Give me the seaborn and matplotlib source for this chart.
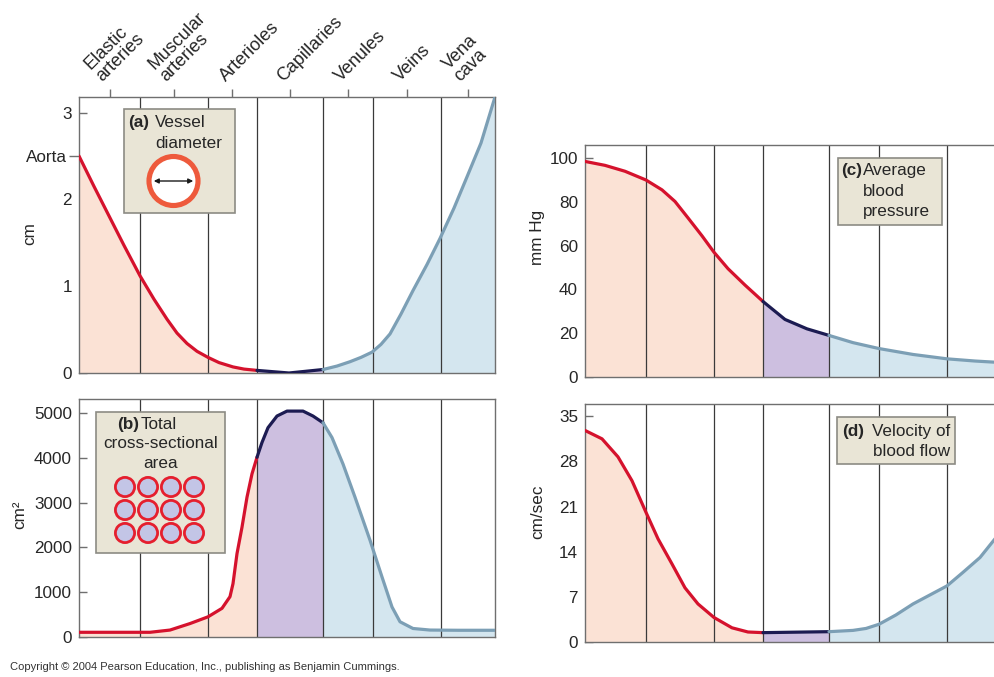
import numpy as np
import pandas as pd
import matplotlib
matplotlib.use("Agg")
import matplotlib.pyplot as plt
import seaborn as sns
from matplotlib.patches import Rectangle, Circle, FancyArrowPatch
from matplotlib.ticker import FixedLocator, FixedFormatter

# ---------------- data ----------------
vessels = ["Elastic\narteries", "Muscular\narteries", "Arterioles", "Capillaries",
           "Venules", "Veins", "Vena\ncava"]
bounds = [0, 61, 129, 178, 244, 294, 362, 416]   # position along the circulation

diam_x = [0, 15, 30, 45, 61, 75, 88, 98, 108, 118, 129, 140, 154, 165, 178, 210, 244,
          258, 271, 282, 293, 302, 311, 322, 334, 348, 361, 375, 388, 402, 416]
diam_y = [2.5, 2.15, 1.81, 1.47, 1.12, 0.85, 0.62, 0.46, 0.34, 0.25, 0.18, 0.12, 0.07, 0.045, 0.03, 0.0, 0.04,
          0.08, 0.13, 0.18, 0.24, 0.33, 0.45, 0.68, 0.95, 1.25, 1.55, 1.9, 2.26, 2.65, 3.18]

area_x = [0, 71, 91, 111, 129, 143, 151, 154, 158, 163, 168, 173, 178, 183, 189, 198, 208,
          224, 234, 244, 253, 264, 276, 291, 303, 313, 321, 334, 351, 380, 416]
area_y = [105, 105, 155, 300, 450, 640, 900, 1190, 1860, 2450, 3120, 3640, 4010, 4340, 4670, 4930, 5040,
          5040, 4930, 4780, 4450, 3860, 3120, 2160, 1340, 670, 340, 190, 155, 150, 150]

press_x = [0, 20, 40, 61, 77, 90, 103, 117, 129, 143, 160, 178, 200, 222, 244, 268, 294, 328, 362, 390, 416]
press_y = [98.5, 96.7, 94, 90, 85.5, 80.2, 72.7, 64.5, 57, 49.5, 42, 34.5, 26.3, 22, 19, 15.7, 13, 10.3, 8.3, 7.3, 6.6]

vel_x = [0, 17, 33, 47, 61, 73, 87, 100, 113, 129, 147, 163, 178, 244, 268, 281, 294, 311, 328,
         345, 362, 378, 395, 410, 416]
vel_y = [32.8, 31.5, 28.7, 25.0, 20.1, 16.0, 12.1, 8.4, 5.9, 3.8, 2.2, 1.55, 1.45, 1.6, 1.8, 2.1, 2.75, 4.2, 5.9,
         7.3, 8.7, 10.8, 13.1, 16.0, 17.0]

# ---------------- style ----------------
sns.set_style("white")
plt.rcParams['font.family'] = ['Liberation Sans', 'DejaVu Sans']

RED, NAVY, VBLUE = "#d5122d", "#1c1b52", "#7c9fb5"
PEACH, LAV, LBLUE = "#fbe2d5", "#cdbfe0", "#d4e6ef"
BOXBG, BOXEDGE = "#e9e5d6", "#8c8b84"
SPINE = "#6f6f6f"
FS = 12.3

W, H = 995, 677
fig = plt.figure(figsize=(W / 100, H / 100), dpi=100)
fig.patch.set_facecolor("white")


def ax_at(l, t, r, b):
    return fig.add_axes([l / W, 1 - b / H, (r - l) / W, (b - t) / H])


axA = ax_at(79, 97, 495, 373)
axB = ax_at(79, 399, 495, 637)
axC = ax_at(585, 145, 1001, 377)
axD = ax_at(585, 404, 1001, 642)

segments = [(0, 178, RED, PEACH), (178, 244, NAVY, LAV), (244, 416, VBLUE, LBLUE)]


def draw(ax, xs, ys, ymax, yticks):
    xs = np.asarray(xs, float)
    ys = np.asarray(ys, float)
    for lo, hi, lc, fc in segments:
        m = (xs >= lo) & (xs <= hi)
        ax.fill_between(xs[m], 0, ys[m], color=fc, lw=0, zorder=1)
    for b in bounds[1:-1]:
        ax.axvline(b, color="#3a3a3a", lw=0.9, zorder=2)
    for lo, hi, lc, fc in segments:
        m = (xs >= lo) & (xs <= hi)
        df = pd.DataFrame({"x": xs[m], "y": ys[m]})
        sns.lineplot(data=df, x="x", y="y", ax=ax, color=lc, lw=2.3, sort=False,
                     zorder=4, solid_capstyle="round", solid_joinstyle="round")
    ax.set_xlim(0, 416)
    ax.set_ylim(0, ymax)
    ax.set_xticks([])
    ax.set_yticks(yticks)
    ax.set_xlabel("")
    ax.set_ylabel("")
    ax.tick_params(axis="y", direction="in", length=5.8, width=1, color=SPINE,
                   labelsize=FS, pad=5, left=True)
    for s in ax.spines.values():
        s.set_visible(True)
        s.set_color(SPINE)
        s.set_linewidth(1.0)
    ax.set_facecolor("white")


draw(axA, diam_x, diam_y, 3.18, [0, 1, 2, 3])
draw(axB, area_x, area_y, 5310, [0, 1000, 2000, 3000, 4000, 5000])
draw(axC, press_x, press_y, 106, [0, 20, 40, 60, 80, 100])
draw(axD, vel_x, vel_y, 36.9, [0, 7, 14, 21, 28, 35])

# Aorta marker on the diameter axis
axA.yaxis.set_minor_locator(FixedLocator([2.5]))
axA.yaxis.set_minor_formatter(FixedFormatter(["Aorta"]))
axA.tick_params(axis="y", which="minor", direction="out", length=7.5, width=1,
                color=SPINE, labelsize=FS, pad=1, left=True)

# vessel names above panel (a)
mids = [(bounds[i] + bounds[i + 1]) / 2 for i in range(len(vessels))]
axA.xaxis.set_ticks_position("top")
axA.set_xticks(mids)
axA.set_xticklabels([""] * len(mids))
axA.tick_params(axis="x", direction="out", length=6, width=1, color=SPINE, top=True, bottom=False)
for m, name in zip(mids, vessels):
    axA.annotate(name, xy=(m, 1), xycoords=("data", "axes fraction"),
                 xytext=(-7, 15), textcoords="offset pixels",
                 rotation=45, rotation_mode="anchor", ha="left", va="baseline",
                 fontsize=13, multialignment="left", linespacing=0.95, annotation_clip=False)

# axis labels
for ax, lab, x, y in [(axA, "cm", -0.10, 0.507), (axB, "cm\u00b2", -0.125, 0.513),
                      (axC, "mm Hg", -0.096, 0.60), (axD, "cm/sec", -0.096, 0.546)]:
    ax.set_ylabel(lab, fontsize=FS)
    ax.yaxis.set_label_coords(x, y)

# ---------------- overlay for inset boxes ----------------
ov = fig.add_axes([0, 0, 1, 1], zorder=10)
ov.set_xlim(0, W)
ov.set_ylim(H, 0)
ov.axis("off")
ov.patch.set_visible(False)


def box(x0, y0, x1, y1):
    ov.add_patch(Rectangle((x0, y0), x1 - x0, y1 - y0, facecolor=BOXBG,
                           edgecolor=BOXEDGE, lw=1.2))


def txt(x, y, s, **kw):
    ov.text(x, y, s, fontsize=FS, va="baseline", **kw)


# (a)
box(124, 109, 235, 213)
txt(128, 127, "(a)", fontweight="bold", ha="left")
txt(155, 127, "Vessel", ha="left")
txt(155, 148, "diameter", ha="left")
ov.add_patch(Circle((173.5, 181), 24.5, facecolor="white", edgecolor="#ee5a3c", lw=3.7))
ov.add_patch(FancyArrowPatch((151, 181), (196, 181), arrowstyle="<|-|>", mutation_scale=7,
                             color="#1a1a1a", lw=1.0))

# (b)
box(96, 412, 225, 553)
txt(117, 429, "(b)", fontweight="bold", ha="left")
txt(141, 429, "Total", ha="left")
txt(160.5, 448, "cross-sectional", ha="center")
txt(160.5, 468, "area", ha="center")
for cy in [487, 510, 533]:
    for cx in [125, 148, 171, 194]:
        ov.add_patch(Circle((cx, cy), 9.6, facecolor="#c3c5e6", edgecolor="#e51f2e", lw=2.0))

# (c)
box(838, 158, 942, 225)
txt(841, 175, "(c)", fontweight="bold", ha="left")
txt(863, 175, "Average", ha="left")
txt(863, 196, "blood", ha="left")
txt(863, 216, "pressure", ha="left")

# (d)
box(837, 417, 955, 464)
txt(842, 436, "(d)", fontweight="bold", ha="left")
txt(950, 436, "Velocity of", ha="right")
txt(950, 456, "blood flow", ha="right")

ov.text(10, 670, "Copyright \u00a9 2004 Pearson Education, Inc., publishing as Benjamin Cummings.",
        fontsize=8, va="baseline", ha="left", color="#333333")

fig.savefig("out.png", dpi=100)
